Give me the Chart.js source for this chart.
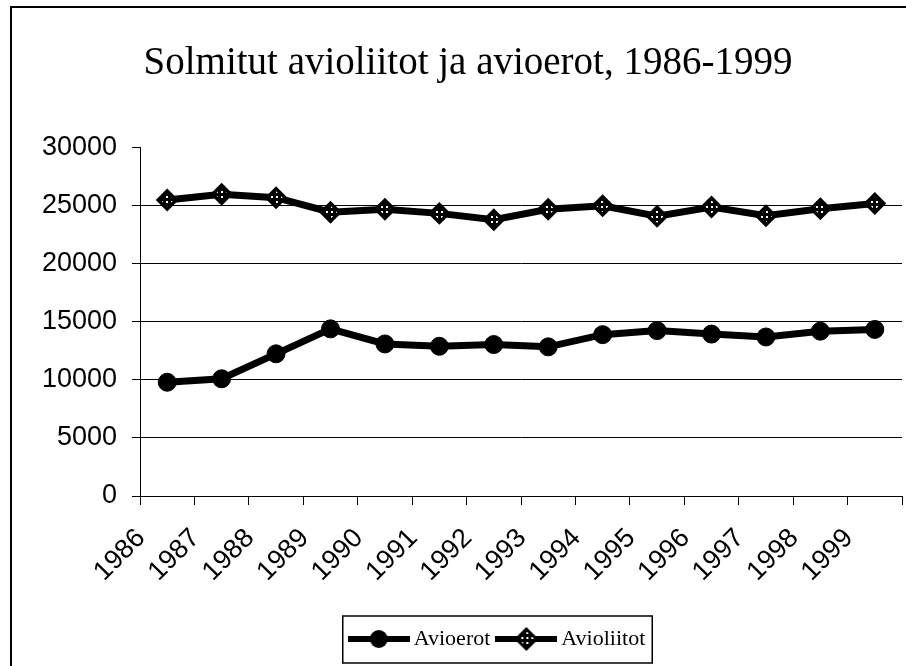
<!DOCTYPE html>
<html lang="fi">
<head>
  <meta charset="UTF-8" />
  <title>Solmitut avioliitot ja avioerot, 1986-1999</title>
  <script src="https://cdn.jsdelivr.net/npm/chart.js"></script>
  <style>
    body { margin:0; background:#fff; }
    #wrap { width:906px; height:666px; }
  </style>
</head>
<body>
  <div id="wrap"><canvas id="chart" width="906" height="666"></canvas></div>

  <script>
    const years = ["1986","1987","1988","1989","1990","1991","1992","1993","1994","1995","1996","1997","1998","1999"];
    const avioerot = [9800, 10100, 12250, 14400, 13100, 12900, 13050, 12850, 13900, 14250, 13950, 13700, 14200, 14350];
    const avioliitot = [25500, 26000, 25700, 24450, 24700, 24350, 23800, 24700, 25000, 24100, 24900, 24150, 24750, 25200];
    const yTicks = [0, 5000, 10000, 15000, 20000, 25000, 30000];

    // dotted fill for the diamond markers
    const pc = document.createElement("canvas");
    pc.width = 5; pc.height = 5;
    const pg = pc.getContext("2d");
    pg.fillStyle = "#000"; pg.fillRect(0, 0, 5, 5);
    pg.fillStyle = "#fff"; pg.fillRect(1, 1, 2, 2);
    const dots = pg.createPattern(pc, "repeat");

    // legend swatches: line with marker in the middle
    function swatch(kind) {
      const c = document.createElement("canvas");
      c.width = 62; c.height = 26;
      const g = c.getContext("2d");
      g.fillStyle = "#000";
      g.fillRect(0, 10, 62, 6);
      if (kind === "circle") {
        g.beginPath(); g.arc(31, 13, 9, 0, Math.PI * 2); g.fill();
      } else {
        g.beginPath();
        g.moveTo(21, 13); g.lineTo(31, 3); g.lineTo(41, 13); g.lineTo(31, 23); g.closePath();
        g.fillStyle = g.createPattern(pc, "repeat"); g.fill();
        g.lineWidth = 3; g.strokeStyle = "#000"; g.stroke();
      }
      return c;
    }
    const swatches = [swatch("circle"), swatch("diamond")];

    const frame = {
      id: "frame",
      afterLayout(chart) {
        // legend sits a bit right of centre in the original
        chart.legend.left += 32;
        chart.legend.right += 32;
      },
      afterDraw(chart) {
        const ctx = chart.ctx;
        ctx.save();
        ctx.strokeStyle = "#000";
        ctx.lineWidth = 2;
        ctx.strokeRect(11, 7, 1000, 1000);
        const hb = chart.legend.legendHitBoxes;
        if (hb && hb.length) {
          const a = hb[0], b = hb[hb.length - 1];
          ctx.lineWidth = 1.5;
          ctx.strokeRect(a.left - 12, a.top - 12, b.left + b.width + 7 - (a.left - 12), a.height + 25);
        }
        ctx.restore();
      }
    };

    new Chart(document.getElementById("chart"), {
      type: "line",
      data: {
        labels: years,
        datasets: [
          {
            label: "Avioerot",
            data: avioerot,
            borderColor: "#000",
            borderWidth: 7,
            pointStyle: "circle",
            pointRadius: 9,
            pointBackgroundColor: "#000",
            pointBorderColor: "#000",
            pointBorderWidth: 1
          },
          {
            label: "Avioliitot",
            data: avioliitot,
            borderColor: "#000",
            borderWidth: 7,
            pointStyle: "rectRot",
            pointRadius: 9,
            pointBackgroundColor: dots,
            pointBorderColor: "#000",
            pointBorderWidth: 3.5
          }
        ]
      },
      options: {
        responsive: false,
        devicePixelRatio: 1,
        animation: false,
        layout: { autoPadding: false, padding: { left: 34, right: 4, top: 5, bottom: 6 } },
        plugins: {
          title: {
            display: true,
            text: "Solmitut avioliitot ja avioerot, 1986-1999",
            color: "#000",
            font: { family: "'Liberation Serif', 'Times New Roman', serif", size: 39, weight: "normal" },
            padding: { top: 35, bottom: 61 }
          },
          legend: {
            position: "bottom",
            labels: {
              usePointStyle: true,
              pointStyleWidth: 48,
              padding: 12,
              color: "#000",
              font: { family: "'Liberation Serif', 'Times New Roman', serif", size: 22 },
              generateLabels: chart => chart.data.datasets.map((ds, i) => ({
                text: ds.label,
                pointStyle: swatches[i],
                datasetIndex: i,
                hidden: false,
                lineWidth: 0,
                fontColor: "#000"
              }))
            }
          },
          tooltip: { enabled: false }
        },
        scales: {
          x: {
            offset: true,
            afterFit: s => { s.height = 120; },
            grid: { offset: true, drawOnChartArea: false, drawTicks: true, tickLength: 9, color: "#000" },
            border: { color: "#000", width: 1 },
            ticks: {
              autoSkip: false,
              minRotation: 45,
              maxRotation: 45,
              labelOffset: -26,
              padding: 28,
              color: "#000",
              // small line height keeps the rotated labels from eating right-hand space
              font: { family: "'Liberation Sans', Arial, sans-serif", size: 27, lineHeight: 0.1 }
            }
          },
          y: {
            min: 0,
            max: 30000,
            afterBuildTicks: s => { s.ticks = yTicks.map(v => ({ value: v })); },
            afterFit: s => { s.width = 106; },
            grid: {
              color: c => (c.tick && c.tick.value === 30000) ? "rgba(0,0,0,0)" : "#000",
              tickColor: "#000",
              tickLength: 8,
              lineWidth: 1
            },
            border: { color: "#000", width: 1 },
            ticks: {
              padding: 15,
              color: "#000",
              font: { family: "'Liberation Sans', Arial, sans-serif", size: 27 },
              callback: v => String(v)
            }
          }
        }
      },
      plugins: [frame]
    });
  </script>
</body>
</html>
